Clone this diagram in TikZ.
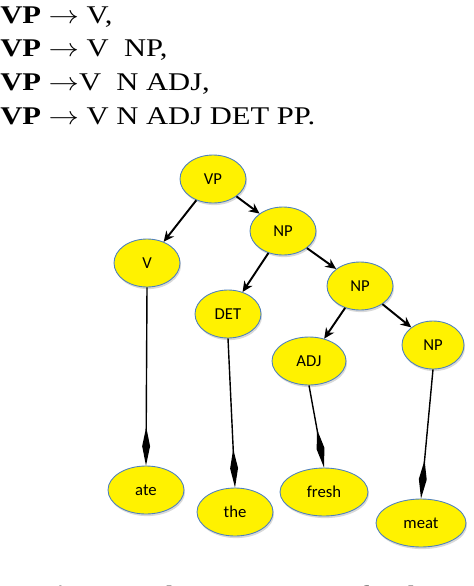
\documentclass[tikz,border=0pt]{standalone}
\usepackage{fontspec}
\setmainfont{Liberation Serif}
\newfontfamily\labelfont{Carlito}
\usetikzlibrary{shapes.geometric,arrows.meta,shadows}
\definecolor{rimblue}{RGB}{79,129,189}
\newcommand{\wide}[1]{\scalebox{1.2}[1]{#1}}
\begin{document}
\begin{tikzpicture}[x=0.02cm, y=-0.02cm,
        word/.style={ellipse, draw=rimblue, fill=yellow, line width=0.5pt, inner sep=0pt,
                     minimum height=0.96cm, font=\labelfont\fontsize{9.5}{10}\selectfont,
                     drop shadow={opacity=0.3, shadow xshift=0.6pt, shadow yshift=-1.2pt}},
        branch/.style={-{Stealth[length=6pt, width=5.5pt]}, line width=1.1pt},
        leaf/.style={-{Diamond[length=22pt, width=4.5pt]}, line width=0.8pt},
        rule/.style={anchor=base west, inner sep=0pt, text height=9.8pt, font=\fontsize{14.5}{16}\selectfont}]
        \clip (0,0) rectangle (474,586);

        % grammar rules
        \node[rule] (line1) at (0,23)  {\wide{\textbf{VP} $\rightarrow$ V,}};
        \node[rule] (line2) at (0,56)  {\wide{\textbf{VP} $\rightarrow$ V\ \ NP,}};
        \node[rule] (line3) at (0,90)  {\wide{\textbf{VP} $\rightarrow$V\ \ N ADJ,}};
        \node[rule] (line4) at (0,124) {\wide{\textbf{VP} $\rightarrow$ V N ADJ DET PP.}};

        % phrase nodes
        \node[word, minimum width=1.32cm] (vp)  at (213,179) {VP};
        \node[word, minimum width=1.32cm] (np1) at (283,231) {NP};
        \node[word, minimum width=1.32cm] (v)   at (147,263) {V};
        \node[word, minimum width=1.32cm] (det) at (228,314) {DET};
        \node[word, minimum width=1.32cm] (np2) at (360,286) {NP};
        \node[word, minimum width=1.48cm] (adj) at (309,361) {ADJ};
        \node[word, minimum width=1.24cm] (np3) at (433,345) {NP};

        % words
        \node[word, minimum width=1.52cm] (ate)   at (146,490) {ate};
        \node[word, minimum width=1.52cm] (the)   at (235,512) {the};
        \node[word, minimum width=1.76cm] (fresh) at (324,492) {fresh};
        \node[word, minimum width=1.80cm] (meat)  at (421,523) {meat};

        \draw[branch] (vp) -- (v);
        \draw[branch] (vp) -- (np1);
        \draw[branch] (np1) -- (det);
        \draw[branch] (np1) -- (np2);
        \draw[branch] (np2) -- (adj);
        \draw[branch] (np2) -- (np3);

        \draw[leaf] (v.south) -- (ate.north);
        \draw[leaf] (det.south) -- (the.north);
        \draw[leaf] (adj.south) -- (fresh.north);
        \draw[leaf] (np3.south) -- (meat.north);

        \node[anchor=base west, inner sep=0pt, text=gray, font=\bfseries\fontsize{14.5}{16}\selectfont]
            (caption) at (41,603) {Figure 4: The VP Parse Tree for the S};
\end{tikzpicture}
\end{document}
